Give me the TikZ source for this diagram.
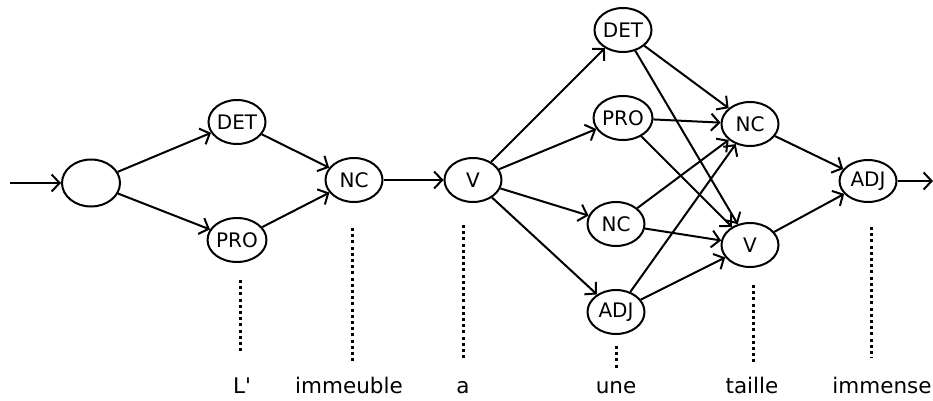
\documentclass[tikz,border=0pt]{standalone}
\usepackage{fontspec}
\setmainfont{DejaVu Sans}[Ligatures=TeXOff]
\usetikzlibrary{shapes.geometric,arrows.meta}
\begin{document}
\begin{tikzpicture}[x=1pt,y=-1pt,
  tag/.style={ellipse,draw,line width=2pt,minimum width=57pt,minimum height=44pt,inner sep=0pt,font=\fontsize{20}{20}\selectfont},
  arc/.style={line width=2pt,-{Straight Barb[length=8pt,width=17pt,line width=2pt]}},
  dots/.style={line width=3pt,dash pattern=on 3pt off 3.2pt},
  word/.style={font=\fontsize{21.5}{22}\selectfont,anchor=base}]
\useasboundingbox (0,0) rectangle (933,401);
\node[tag,minimum width=58pt,minimum height=47pt] (s) at (91,183) {};
\node[tag] (det1) at (237,122) {DET};
\node[tag] (pro1) at (237,240) {PRO};
\node[tag] (nc1) at (354,180) {NC};
\node[tag] (v1) at (473,180) {V};
\node[tag] (det2) at (623,30) {DET};
\node[tag] (pro2) at (623,118) {PRO};
\node[tag] (nc2) at (616,224) {NC};
\node[tag] (adj2) at (616,312) {ADJ};
\node[tag] (nc3) at (750,124) {NC};
\node[tag] (v3) at (750,245) {V};
\node[tag,minimum height=42pt] (adj3) at (868,181) {ADJ};
\coordinate (in) at (10,183);
\coordinate (out) at (933,181);
\draw[arc] (in) -- (s);
\draw[arc] (s) -- (det1);
\draw[arc] (s) -- (pro1);
\draw[arc] (det1) -- (nc1);
\draw[arc] (pro1) -- (nc1);
\draw[arc] (nc1) -- (v1);
\draw[arc] (v1) -- (det2);
\draw[arc] (v1) -- (pro2);
\draw[arc] (v1) -- (nc2);
\draw[arc] (v1) -- (adj2);
\draw[arc] (det2) -- (nc3);
\draw[arc] (det2) -- (v3);
\draw[arc] (pro2) -- (nc3);
\draw[arc] (pro2) -- (v3);
\draw[arc] (nc2) -- (nc3);
\draw[arc] (nc2) -- (v3);
\draw[arc] (adj2) -- (nc3);
\draw[arc] (adj2) -- (v3);
\draw[arc] (nc3) -- (adj3);
\draw[arc] (v3) -- (adj3);
\draw[arc] (adj3) -- (out);
\node[word] (w1) at (242,393) {L'};
\node[word] (w2) at (349,393) {immeuble};
\node[word] (w3) at (463,393) {a};
\node[word] (w4) at (616,393) {une};
\node[word] (w5) at (752,393) {taille};
\node[word] (w6) at (882,393) {immense};
\draw[dots] (240,280) -- (240,352);
\draw[dots] (352,228) -- (352,362);
\draw[dots] (463,225) -- (463,358);
\draw[dots] (616,346) -- (616,368);
\draw[dots] (753,285) -- (753,364);
\draw[dots] (871,227) -- (871,358);
\end{tikzpicture}
\end{document}
